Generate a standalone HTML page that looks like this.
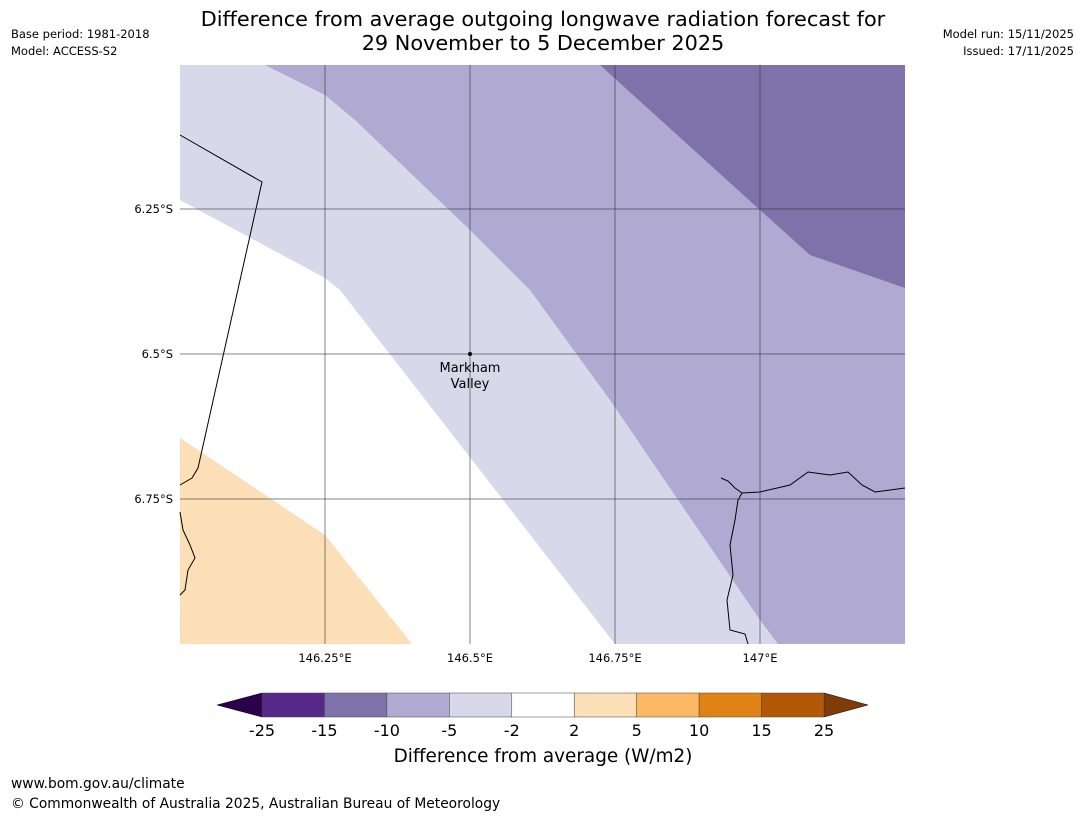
<!DOCTYPE html>
<html><head><meta charset="utf-8"><style>
body{margin:0;background:#fff;font-family:"Liberation Sans","DejaVu Sans",sans-serif}
svg{display:block}
</style></head><body>
<svg width="1085" height="816" xmlns="http://www.w3.org/2000/svg" font-family="DejaVu Sans, Liberation Sans, sans-serif">
<text x="543" y="26" font-size="20.8" text-anchor="middle">Difference from average outgoing longwave radiation forecast for</text>
<text x="543" y="50" font-size="20.8" text-anchor="middle">29 November to 5 December 2025</text>
<text x="11" y="38" font-size="11.5">Base period: 1981-2018</text>
<text x="11" y="55" font-size="11.5">Model: ACCESS-S2</text>
<text x="1074" y="38" font-size="11.5" text-anchor="end">Model run: 15/11/2025</text>
<text x="1074" y="55" font-size="11.5" text-anchor="end">Issued: 17/11/2025</text>
<g>
<rect x="180" y="65" width="725" height="579" fill="#fff"/>
<polygon fill="#d8d8ea" points="180,65 905,65 905,644 615,644 340,290 325,278 180,200"/>
<polygon fill="#b0a9d1" points="265,65 905,65 905,644 778,644 760,620 610,400 530,290 470,230 355,120 325,95"/>
<polygon fill="#7f72aa" points="600,65 905,65 905,288 810,255 760,210"/>
<polygon fill="#fddfb7" points="180,438 325,535 412,644 180,644"/>
<g stroke="#000" stroke-width="1" fill="none">
<polyline points="180,135 262,182 198,468 192,478 180,485"/>
<polyline points="180,512 183,530 190,545 195,558 188,570 185,590 180,595"/>
<polyline points="721,478 728,481 735,488 742,493 738,500 735,520 730,545 733,575 727,600 730,630 745,634 748,644"/>
<polyline points="742,493 760,492 790,485 808,472 830,475 848,472 862,485 875,492 905,488"/>
</g>
<g stroke="#333" stroke-opacity="0.6" stroke-width="1">
<line x1="325" y1="65" x2="325" y2="644"/><line x1="470" y1="65" x2="470" y2="644"/>
<line x1="615" y1="65" x2="615" y2="644"/><line x1="760" y1="65" x2="760" y2="644"/>
<line x1="180" y1="209" x2="905" y2="209"/><line x1="180" y1="354" x2="905" y2="354"/>
<line x1="180" y1="499" x2="905" y2="499"/>
</g>
<circle cx="470" cy="354" r="2" fill="#000"/>
<text x="470" y="372" font-size="13" text-anchor="middle">Markham</text>
<text x="470" y="388" font-size="13" text-anchor="middle">Valley</text>
</g>
<g font-size="11.5">
<text x="173" y="213" text-anchor="end">6.25°S</text>
<text x="173" y="358" text-anchor="end">6.5°S</text>
<text x="173" y="503" text-anchor="end">6.75°S</text>
</g>
<g font-size="11.5" text-anchor="middle">
<text x="325" y="662">146.25°E</text><text x="470" y="662">146.5°E</text>
<text x="615" y="662">146.75°E</text><text x="760" y="662">147°E</text>
</g>
<g id="cbar"></g>
<text x="543" y="762" font-size="18.4" text-anchor="middle">Difference from average (W/m2)</text>
<text x="11" y="788" font-size="13.8">www.bom.gov.au/climate</text>
<text x="11" y="808" font-size="13.8">© Commonwealth of Australia 2025, Australian Bureau of Meteorology</text>
</svg>
<script>
const binColors=["#562888","#7f72aa","#b0a9d1","#d8d8ea","#ffffff","#fddfb7","#fbb862","#e08214","#b35806"];
const tickLabels=["-25","-15","-10","-5","-2","2","5","10","15","25"];
const extColors=["#2d004b","#7f3b08"];
const g=document.getElementById('cbar');
const NS="http://www.w3.org/2000/svg";
const x0=262,x1=824,y0=693,y1=717,w=(x1-x0)/binColors.length;
function mk(t,a){const e=document.createElementNS(NS,t);for(const k in a)e.setAttribute(k,a[k]);g.appendChild(e);return e;}
const lt=mk('polygon',{points:`${x0},${y0} ${x0},${y1} 217,705`,fill:extColors[0],stroke:'#000','stroke-width':0.5});


const rt=mk('polygon',{points:`${x1},${y0} ${x1},${y1} 868,705`,fill:extColors[1],stroke:'#000','stroke-width':0.5});


binColors.forEach((c,i)=>{
 const r=mk('rect',{x:x0+i*w,y:y0,width:w,height:y1-y0,fill:c,stroke:'#444','stroke-width':0.5});
 
 
});
tickLabels.forEach((l,i)=>{
 const t=mk('text',{x:x0+i*w,y:736,'font-size':16,'text-anchor':'middle'});
 t.textContent=l;
 
 
});
</script>
</body></html>
